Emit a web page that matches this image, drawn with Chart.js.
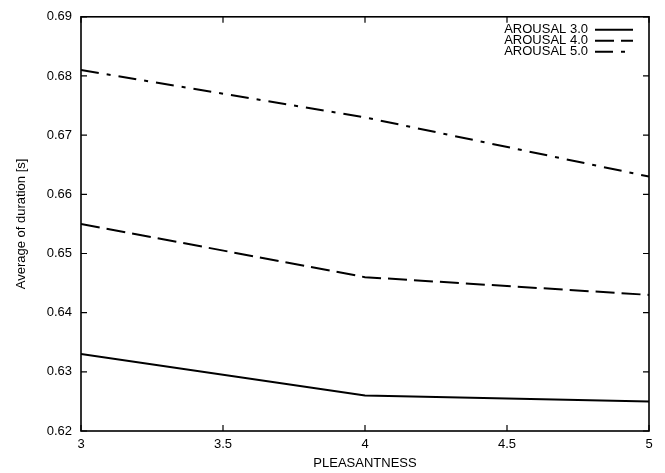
<!DOCTYPE html>
<html>
<head>
<meta charset="utf-8">
<script src="https://cdn.jsdelivr.net/npm/chart.js@4/dist/chart.umd.min.js"></script>
<style>
  html, body { margin: 0; padding: 0; background: #fff; }
  canvas { display: block; }
</style>
</head>
<body>
<canvas id="c" width="665" height="473"></canvas>
<script>
// Pleasantness levels on the x axis
const pleasantness = [3, 4, 5];

// Average duration [s] per arousal level
const arousal3 = [0.633, 0.626, 0.625];
const arousal4 = [0.655, 0.646, 0.643];
const arousal5 = [0.681, 0.673, 0.663];

const seriesLabels = ['AROUSAL 3.0', 'AROUSAL 4.0', 'AROUSAL 5.0'];
const seriesDashes = [[], [19, 7], [18, 8, 4, 8]];

const xTicks = [3, 3.5, 4, 4.5, 5];
const yTicks = [0.62, 0.63, 0.64, 0.65, 0.66, 0.67, 0.68, 0.69];

const FONT = 'Liberation Sans, Arial, Helvetica, sans-serif';

function points(ys) {
  return pleasantness.map((x, i) => ({ x: x, y: ys[i] }));
}

const datasets = [arousal3, arousal4, arousal5].map((ys, i) => ({
  label: seriesLabels[i],
  data: points(ys),
  borderColor: '#000',
  borderWidth: 2,
  borderDash: seriesDashes[i],
  pointRadius: 0,
  tension: 0,
  fill: false
}));

// Frame around the plot with inward ticks on all four sides, and a
// legend with the sample line to the right of each label.
const framePlugin = {
  id: 'frame',
  afterDatasetsDraw(chart) {
    const ctx = chart.ctx;
    const a = chart.chartArea;
    const xs = chart.scales.x, ys = chart.scales.y;
    const tl = 6;
    ctx.save();
    ctx.strokeStyle = '#000';
    ctx.lineWidth = 1.6;
    ctx.setLineDash([]);
    ctx.strokeRect(a.left, a.top, a.right - a.left, a.bottom - a.top);
    ctx.lineWidth = 1.2;
    ctx.beginPath();
    xTicks.forEach(v => {
      const px = xs.getPixelForValue(v);
      ctx.moveTo(px, a.bottom); ctx.lineTo(px, a.bottom - tl);
      ctx.moveTo(px, a.top); ctx.lineTo(px, a.top + tl);
    });
    yTicks.forEach(v => {
      const py = ys.getPixelForValue(v);
      ctx.moveTo(a.left, py); ctx.lineTo(a.left + tl, py);
      ctx.moveTo(a.right, py); ctx.lineTo(a.right - tl, py);
    });
    ctx.stroke();

    // legend
    ctx.font = '13px ' + FONT;
    ctx.fillStyle = '#000';
    ctx.textAlign = 'right';
    ctx.textBaseline = 'middle';
    const textRight = a.right - 61;
    const lineStart = a.right - 54;
    const lineEnd = a.right - 16;
    chart.data.datasets.forEach((ds, i) => {
      const y = a.top + 13 + i * 11;
      ctx.fillText(ds.label, textRight, y);
      ctx.lineWidth = ds.borderWidth;
      ctx.setLineDash(ds.borderDash);
      ctx.beginPath();
      ctx.moveTo(lineStart, y);
      ctx.lineTo(lineEnd, y);
      ctx.stroke();
    });
    ctx.restore();
  }
};

new Chart(document.getElementById('c'), {
  type: 'line',
  data: { datasets: datasets },
  options: {
    responsive: false,
    animation: false,
    devicePixelRatio: 1,
    layout: { padding: { left: 0, right: 16, top: 16, bottom: 0 } },
    plugins: {
      legend: { display: false },
      tooltip: { enabled: false }
    },
    scales: {
      x: {
        type: 'linear',
        min: 3,
        max: 5,
        afterBuildTicks(scale) { scale.ticks = xTicks.map(v => ({ value: v })); },
        afterFit(scale) { scale.height = 42; },
        grid: { display: false, drawTicks: false },
        border: { display: false },
        ticks: {
          padding: 6,
          color: '#000',
          font: { family: FONT, size: 13 },
          maxRotation: 0,
          callback: v => String(v)
        },
        title: {
          display: true,
          text: 'PLEASANTNESS',
          color: '#000',
          font: { family: FONT, size: 13 },
          padding: { top: 0, bottom: 2 }
        }
      },
      y: {
        type: 'linear',
        min: 0.62,
        max: 0.69,
        afterBuildTicks(scale) { scale.ticks = yTicks.map(v => ({ value: v })); },
        afterFit(scale) { scale.width = 81; },
        grid: { display: false, drawTicks: false },
        border: { display: false },
        ticks: {
          padding: 9,
          color: '#000',
          font: { family: FONT, size: 13 },
          callback: v => v.toFixed(2)
        },
        title: {
          display: true,
          text: 'Average of duration [s]',
          color: '#000',
          font: { family: FONT, size: 13 },
          padding: { top: 14, bottom: 0 }
        }
      }
    }
  },
  plugins: [framePlugin]
});
</script>
</body>
</html>
